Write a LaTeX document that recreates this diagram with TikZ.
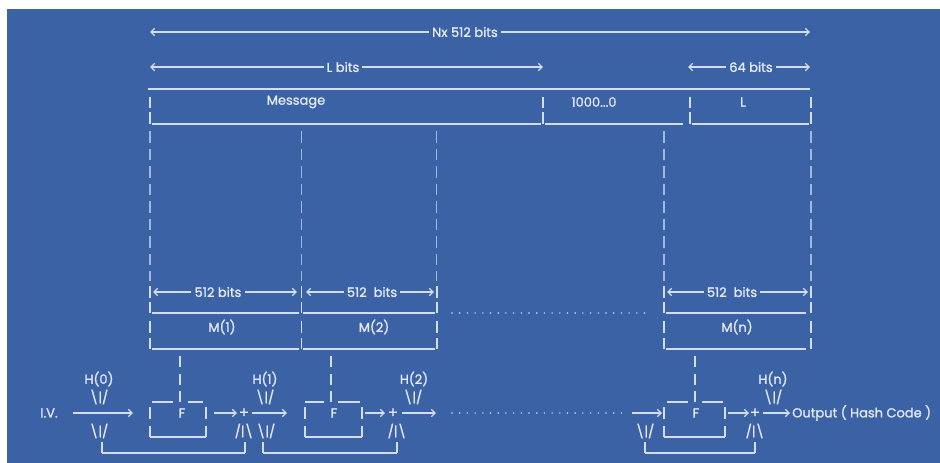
\documentclass[tikz,border=0pt]{standalone}
\usepackage{fontspec}
\setmainfont{Poppins}[FakeBold=1.1]
\usetikzlibrary{arrows.meta}
\definecolor{bg}{RGB}{60,98,166}
\definecolor{fg}{RGB}{228,234,246}
\definecolor{lc}{RGB}{210,221,240}
\definecolor{dc}{RGB}{160,185,226}
\newcommand{\mydn}{\textbackslash|/}
\newcommand{\myup}{/|\textbackslash}
\newcommand{\myvb}[3]{\draw[ln] (#1,#2) -- (#1,#3);}
\begin{document}
\begin{tikzpicture}[x=1pt,y=-1pt,
  txt/.style={text=fg,font=\fontsize{13}{15}\selectfont,inner sep=3pt},
  ln/.style={draw=lc,line width=1.3pt},
  tip/.style={-{Straight Barb[length=3.8pt,width=7.5pt]}},
  dashv/.style={draw=dc,line width=1.4pt,dash pattern=on 11.5pt off 6pt},
  dots/.style={draw=lc,line width=1.6pt,line cap=round,dash pattern=on 0pt off 7.7pt}]
\useasboundingbox (0,0) rectangle (940,463);
\fill[white] (0,0) rectangle (940,463);
\fill[bg] (7,9) rectangle (940,463);

% top dimension rows
\node[txt] (nx) at (465,32) {Nx 512 bits};
\coordinate (nxl) at (150,32); \coordinate (nxr) at (810,32);
\draw[ln,tip] (nx.west) -- (nxl); \draw[ln,tip] (nx.east) -- (nxr);
\node[txt] (lb) at (343,67) {L bits};
\coordinate (lbl) at (150,67); \coordinate (lbr) at (543,67);
\draw[ln,tip] (lb.west) -- (lbl); \draw[ln,tip] (lb.east) -- (lbr);
\node[txt] (sf) at (751,67) {64 bits};
\coordinate (sfl) at (688,67); \coordinate (sfr) at (810,67);
\draw[ln,tip] (sf.west) -- (sfl); \draw[ln,tip] (sf.east) -- (sfr);

% message row
\draw[ln] (148,89) -- (810,89);
\foreach \x in {150,543,690,811} {\myvb{\x}{97}{108}\myvb{\x}{112}{124}}
\node[txt] (msg) at (296,102) {Message};
\node[txt] (pad) at (594,102) {1000...0};
\node[txt] (len) at (743,102) {L};
\draw[ln] (152,124) -- (541,124);
\draw[ln] (545,124) -- (683,124);
\draw[ln] (692,124) -- (809,124);

% dashed verticals
\foreach \x in {150,301.5,436.5,664,811} {\draw[dashv] (\x,131) -- (\x,281);}

% 512 bits row
\foreach \x in {150,301.5,437,664,811} {\myvb{\x}{286}{298}\myvb{\x}{302}{313}\myvb{\x}{321}{333}\myvb{\x}{338}{349}}
\node[txt] (b1) at (218,292) {512 bits};
\coordinate (b1l) at (153,292); \coordinate (b1r) at (297,292);
\draw[ln,tip] (b1.west) -- (b1l); \draw[ln,tip] (b1.east) -- (b1r);
\node[txt] (b2) at (372,292) {512\ \ bits};
\coordinate (b2l) at (306,292); \coordinate (b2r) at (434,292);
\draw[ln,tip] (b2.west) -- (b2l); \draw[ln,tip] (b2.east) -- (b2r);
\node[txt] (b3) at (732,292) {512\ \ bits};
\coordinate (b3l) at (667,292); \coordinate (b3r) at (808,292);
\draw[ln,tip] (b3.west) -- (b3l); \draw[ln,tip] (b3.east) -- (b3r);

\draw[ln] (152,313) -- (299,313); \draw[ln] (303,313) -- (435,313); \draw[ln] (666,313) -- (806,313);
\draw[dots] (452,313) -- (648,313);
\node[txt] (m1) at (222,327) {M(1)};
\node[txt] (m2) at (374,327) {M(2)};
\node[txt] (mn) at (737,327) {M(n)};
\draw[ln] (152,349) -- (299,349); \draw[ln] (303,349) -- (435,349); \draw[ln] (666,349) -- (806,349);

% stems into F
\foreach \x in {180,331,695} {\myvb{\x}{356}{367}\myvb{\x}{374}{385}\myvb{\x}{391}{402}}
\draw[ln] (152,402) -- (173,402); \draw[ln] (188,402) -- (203,402);
\draw[ln] (305,402) -- (324,402); \draw[ln] (338,402) -- (360,402);
\draw[ln] (667,402) -- (688,402); \draw[ln] (702,402) -- (723,402);

% F boxes
\foreach \a/\b in {150/206,305/362,664/725} {\myvb{\a}{407}{419}\myvb{\b}{407}{419}\myvb{\a}{426}{437}\myvb{\b}{426}{437}\draw[ln] (\a,437) -- (\b,437);}
\node[txt] (f1) at (182,413) {F};
\node[txt] (f2) at (334,413) {F};
\node[txt] (fn) at (696,413) {F};

% chaining row
\node[txt] (iv) at (49,413) {I.V.};
\coordinate (ivs) at (73,413); \coordinate (ive) at (133,413);
\draw[ln,tip] (ivs) -- (ive);
\node[txt,font=\fontsize{15}{15}\selectfont] (p1) at (244,413) {+};
\node[txt,font=\fontsize{15}{15}\selectfont] (p2) at (393,413) {+};
\node[txt,font=\fontsize{15}{15}\selectfont] (pn) at (755,413) {+};
\coordinate (o1s) at (214,413); \coordinate (o1e) at (237,413); \draw[ln,tip] (o1s) -- (o1e);
\coordinate (q1s) at (252,413); \coordinate (q1e) at (287,413); \draw[ln,tip] (q1s) -- (q1e);
\coordinate (o2s) at (365,413); \coordinate (o2e) at (385,413); \draw[ln,tip] (o2s) -- (o2e);
\coordinate (q2s) at (402,413); \coordinate (q2e) at (436,413); \draw[ln,tip] (q2s) -- (q2e);
\draw[dots] (452,413) -- (627,413);
\coordinate (ins) at (632,413); \coordinate (ine) at (662,413); \draw[ln,tip] (ins) -- (ine);
\coordinate (ons) at (728,413); \coordinate (one) at (749,413); \draw[ln,tip] (ons) -- (one);
\coordinate (qns) at (763,413); \coordinate (qne) at (790,413); \draw[ln,tip] (qns) -- (qne);
\node[txt,anchor=west] (out) at (789,413) {Output ( Hash Code )};

% H labels
\node[txt] (h0) at (99,379) {H(0)};
\node[txt] (h1) at (265,379) {H(1)};
\node[txt] (h2) at (414,379) {H(2)};
\node[txt] (hn) at (773,379) {H(n)};
\node[txt] (d0) at (99,397) {\mydn};
\node[txt] (d1) at (265,397) {\mydn};
\node[txt] (d2) at (413,397) {\mydn};
\node[txt] (dn) at (773,397) {\mydn};
\node[txt] (e0) at (99,431) {\mydn};
\node[txt] (u1) at (244,431) {\myup};
\node[txt] (e1) at (266,431) {\mydn};
\node[txt] (u2) at (397,431) {\myup};
\node[txt] (en) at (645,431) {\mydn};
\node[txt] (un) at (755,431) {\myup};

% feed-forward brackets
\foreach \a/\b in {102/245,263/397,645/755} {\myvb{\a}{442}{453}\myvb{\b}{442}{453}\draw[ln] (\a,453) -- (\b,453);}
\end{tikzpicture}
\end{document}
